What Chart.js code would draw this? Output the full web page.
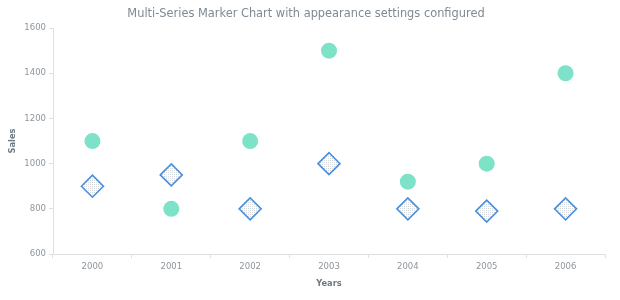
<!DOCTYPE html>
<html>
<head>
<meta charset="utf-8">
<script src="https://cdn.jsdelivr.net/npm/chart.js@4/dist/chart.umd.min.js"></script>
<style>
  html, body { margin: 0; padding: 0; background: #ffffff; }
  #wrap { width: 620px; height: 300px; }
</style>
</head>
<body>
<div id="wrap"><canvas id="chart" width="620" height="300"></canvas></div>
<script>
// Categories and series values
const years = ['2000', '2001', '2002', '2003', '2004', '2005', '2006'];
const circleSales = [1100, 800, 1100, 1500, 920, 1000, 1400];
const diamondSales = [900, 950, 800, 1000, 800, 790, 800];
const salesTicks = [600, 800, 1000, 1200, 1400, 1600];

const FONT = "'DejaVu Sans', Verdana, sans-serif";

// Small dotted fill used inside the diamond markers
function dottedPattern() {
  const c = document.createElement('canvas');
  c.width = 2; c.height = 2;
  const g = c.getContext('2d');
  g.fillStyle = '#ffffff';
  g.fillRect(0, 0, 2, 2);
  g.fillStyle = '#d3d8dc';
  g.fillRect(0, 0, 1, 1);
  return g.createPattern(c, 'repeat');
}

const ctx = document.getElementById('chart').getContext('2d');
new Chart(ctx, {
  type: 'line',
  data: {
    labels: years,
    datasets: [
      {
        label: 'Series 1',
        data: circleSales,
        showLine: false,
        pointStyle: 'circle',
        pointRadius: 8,
        pointHoverRadius: 8,
        pointBackgroundColor: '#7de2c7',
        pointBorderColor: '#7de2c7',
        pointBorderWidth: 0
      },
      {
        label: 'Series 2',
        data: diamondSales,
        showLine: false,
        pointStyle: 'rectRot',
        pointRadius: 11,
        pointHoverRadius: 11,
        pointBackgroundColor: dottedPattern(),
        pointBorderColor: '#4a8fe0',
        pointBorderWidth: 1.6
      }
    ]
  },
  options: {
    responsive: false,
    animation: false,
    layout: { padding: { left: 7, right: 15, top: 0, bottom: 0 } },
    plugins: {
      legend: { display: false },
      tooltip: { enabled: false },
      title: {
        display: true,
        text: 'Multi-Series Marker Chart with appearance settings configured',
        color: '#7f8a93',
        font: { family: FONT, size: 11.4, weight: 'normal' },
        padding: { top: 7.2, bottom: 7.2 }
      }
    },
    scales: {
      x: {
        type: 'category',
        offset: true,
        grid: {
          offset: true,
          drawOnChartArea: false,
          drawTicks: true,
          tickLength: 4,
          color: '#dde1e4'
        },
        border: { color: '#dde1e4', width: 1 },
        ticks: {
          color: '#8d969d',
          font: { family: FONT, size: 8.5 },
          padding: 4,
          maxRotation: 0
        },
        title: {
          display: true,
          text: 'Years',
          color: '#6f7a83',
          font: { family: FONT, size: 8.3, weight: 'bold' },
          padding: { top: 0, bottom: 11 }
        },
        afterFit: (s) => { s.height = 46; }
      },
      y: {
        min: 600,
        max: 1600,
        afterBuildTicks: (s) => { s.ticks = salesTicks.map(v => ({ value: v })); },
        grid: {
          drawOnChartArea: false,
          drawTicks: true,
          tickLength: 4,
          color: '#dde1e4'
        },
        border: { color: '#dde1e4', width: 1 },
        ticks: {
          color: '#8d969d',
          font: { family: FONT, size: 8.5 },
          padding: 3,
          callback: (v) => String(v)
        },
        title: {
          display: true,
          text: 'Sales',
          color: '#6f7a83',
          font: { family: FONT, size: 8.3, weight: 'bold' },
          padding: { top: 1, bottom: 0 }
        },
        afterFit: (s) => { s.width = 46; }
      }
    }
  }
});
</script>
</body>
</html>
